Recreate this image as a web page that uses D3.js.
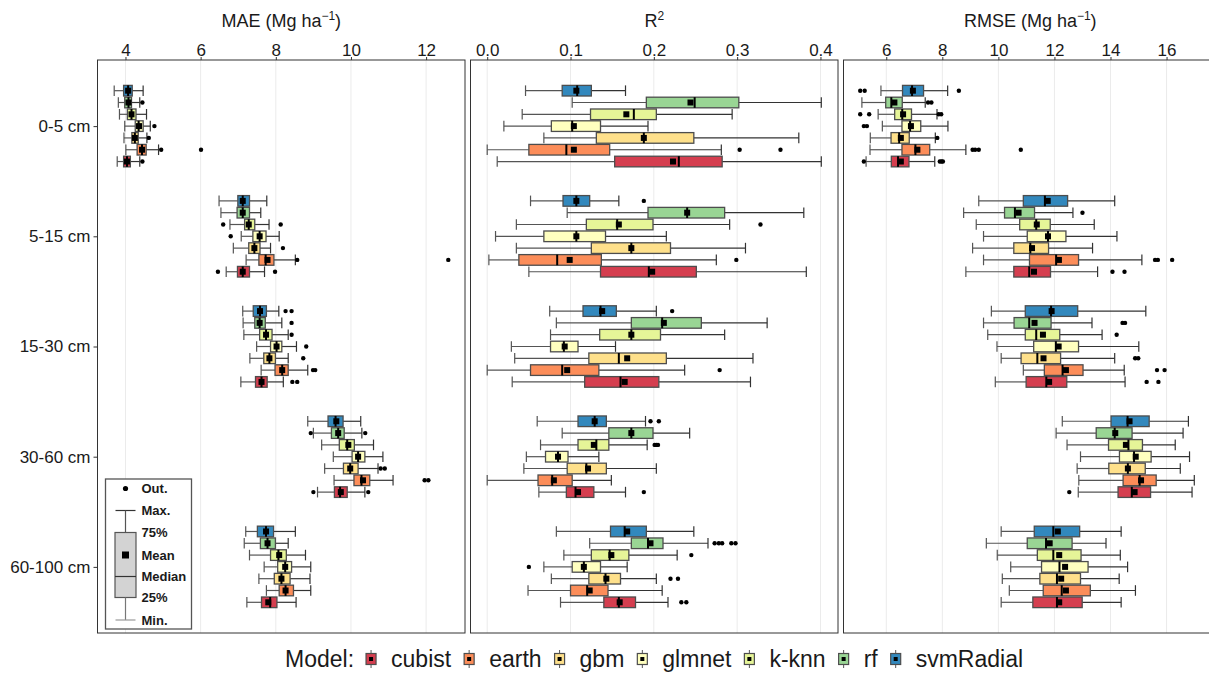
<!DOCTYPE html>
<html>
<head>
<meta charset="utf-8">
<script src="https://cdn.jsdelivr.net/npm/d3@7"></script>
<style>
  body { margin: 0; background: #fff; }
  text { font-family: "Liberation Sans", Arial, sans-serif; }
</style>
</head>
<body>
<script>
// depth groups (top to bottom) and models
var depths = ["0-5 cm", "5-15 cm", "15-30 cm", "30-60 cm", "60-100 cm"];
var models = ["cubist", "earth", "gbm", "glmnet", "k-knn", "rf", "svmRadial"];
var modelColors = ["#d53e4f", "#fc8d59", "#fee08b", "#ffffbf", "#e6f598", "#99d594", "#3288bd"];

var maeTicks = [4, 6, 8, 10, 12];
var r2Ticks = [0, 0.1, 0.2, 0.3, 0.4];
var rmseTicks = [6, 8, 10, 12, 14, 16];

// [min, q1, median, q3, max, mean] per depth, models in the order above
var maeStats = [
	[[3.78, 3.95, 4.04, 4.13, 4.38, 4.04], [4.01, 4.31, 4.44, 4.55, 4.88, 4.44], [3.96, 4.17, 4.25, 4.34, 4.57, 4.25], [3.98, 4.26, 4.35, 4.47, 4.66, 4.36], [3.84, 4.05, 4.16, 4.28, 4.56, 4.16], [3.81, 3.98, 4.08, 4.16, 4.38, 4.08], [3.70, 3.95, 4.07, 4.18, 4.47, 4.07]],
	[[6.68, 6.98, 7.12, 7.30, 7.70, 7.12], [7.21, 7.55, 7.73, 7.95, 8.52, 7.78], [6.87, 7.28, 7.43, 7.58, 7.86, 7.43], [7.08, 7.39, 7.57, 7.74, 8.09, 7.57], [6.78, 7.17, 7.28, 7.44, 7.82, 7.28], [6.54, 6.97, 7.12, 7.30, 7.60, 7.12], [6.49, 6.99, 7.12, 7.30, 7.76, 7.12]],
	[[7.07, 7.46, 7.62, 7.77, 8.20, 7.62], [7.61, 7.98, 8.17, 8.33, 8.85, 8.17], [7.31, 7.68, 7.83, 7.99, 8.33, 7.83], [7.49, 7.86, 8.02, 8.16, 8.55, 8.02], [7.15, 7.57, 7.74, 7.90, 8.33, 7.74], [7.13, 7.44, 7.57, 7.72, 8.16, 7.57], [7.12, 7.40, 7.58, 7.75, 8.08, 7.58]],
	[[9.11, 9.56, 9.71, 9.90, 10.37, 9.73], [9.55, 10.08, 10.28, 10.50, 11.12, 10.32], [9.30, 9.80, 9.98, 10.19, 10.72, 9.98], [9.53, 10.03, 10.19, 10.37, 10.85, 10.19], [9.22, 9.69, 9.90, 10.09, 10.60, 9.93], [9.00, 9.48, 9.66, 9.82, 10.29, 9.66], [8.85, 9.39, 9.59, 9.79, 10.26, 9.61]],
	[[7.23, 7.62, 7.85, 8.03, 8.54, 7.80], [7.75, 8.09, 8.26, 8.47, 8.93, 8.26], [7.55, 7.96, 8.15, 8.38, 8.91, 8.15], [7.69, 8.05, 8.25, 8.42, 8.93, 8.25], [7.30, 7.86, 8.07, 8.28, 8.79, 8.09], [7.16, 7.59, 7.78, 7.99, 8.33, 7.78], [7.20, 7.51, 7.74, 7.94, 8.52, 7.74]]
];
var maeOutliers = [
	[[4.45], [4.95, 6.01], [4.62], [4.77], [], [4.45], []],
	[[6.46, 7.98], [8.57, 12.59], [8.19], [6.80], [6.60, 8.13], [], []],
	[[8.44, 8.57], [8.99, 9.05], [8.73], [8.81], [8.42], [8.42], [8.26, 8.42]],
	[[9.00, 10.46], [11.96, 12.06], [10.79, 10.90], [], [], [8.93, 10.38], []],
	[[], [], [], [], [], [], []]
];

var r2Stats = [
	[[0.012, 0.153, 0.230, 0.282, 0.401, 0.223], [0.000, 0.050, 0.095, 0.147, 0.281, 0.104], [0.068, 0.131, 0.188, 0.248, 0.374, 0.188], [0.020, 0.077, 0.102, 0.136, 0.193, 0.104], [0.042, 0.124, 0.176, 0.203, 0.294, 0.167], [0.102, 0.191, 0.249, 0.302, 0.401, 0.244], [0.046, 0.090, 0.108, 0.125, 0.166, 0.107]],
	[[0.050, 0.136, 0.194, 0.251, 0.383, 0.198], [0.002, 0.038, 0.084, 0.137, 0.275, 0.099], [0.035, 0.125, 0.173, 0.220, 0.310, 0.173], [0.010, 0.068, 0.107, 0.142, 0.215, 0.107], [0.035, 0.119, 0.156, 0.199, 0.291, 0.158], [0.096, 0.193, 0.240, 0.285, 0.380, 0.240], [0.052, 0.091, 0.107, 0.123, 0.158, 0.107]],
	[[0.030, 0.117, 0.160, 0.206, 0.316, 0.165], [0.000, 0.052, 0.090, 0.134, 0.237, 0.096], [0.033, 0.122, 0.158, 0.215, 0.319, 0.168], [0.029, 0.076, 0.092, 0.109, 0.154, 0.093], [0.076, 0.135, 0.173, 0.208, 0.285, 0.173], [0.083, 0.173, 0.210, 0.257, 0.336, 0.212], [0.075, 0.115, 0.136, 0.155, 0.203, 0.138]],
	[[0.062, 0.095, 0.106, 0.128, 0.166, 0.109], [0.000, 0.061, 0.078, 0.102, 0.149, 0.080], [0.044, 0.096, 0.119, 0.143, 0.203, 0.121], [0.047, 0.070, 0.085, 0.097, 0.134, 0.085], [0.064, 0.109, 0.131, 0.146, 0.192, 0.128], [0.090, 0.146, 0.173, 0.199, 0.243, 0.173], [0.060, 0.109, 0.129, 0.143, 0.190, 0.129]],
	[[0.088, 0.140, 0.158, 0.178, 0.217, 0.159], [0.049, 0.100, 0.120, 0.145, 0.210, 0.123], [0.077, 0.122, 0.142, 0.160, 0.203, 0.143], [0.068, 0.102, 0.116, 0.136, 0.168, 0.116], [0.092, 0.125, 0.147, 0.170, 0.228, 0.149], [0.123, 0.173, 0.193, 0.211, 0.265, 0.196], [0.083, 0.148, 0.165, 0.191, 0.248, 0.168]]
];
var r2Outliers = [
	[[], [0.303, 0.352], [], [], [], [], []],
	[[], [0.299], [], [], [0.328], [], [0.188]],
	[[], [0.279], [], [], [], [], [0.222]],
	[[0.188], [], [], [], [0.201, 0.203, 0.205], [], [0.196, 0.206]],
	[[0.233, 0.239], [], [0.220, 0.229], [0.050], [0.245], [0.273, 0.278, 0.282, 0.293, 0.298], []]
];

var rmseStats = [
	[[5.28, 6.18, 6.42, 6.81, 7.73, 6.52], [5.42, 6.56, 7.04, 7.55, 8.84, 7.11], [5.43, 6.17, 6.46, 6.82, 7.75, 6.52], [5.86, 6.56, 6.85, 7.23, 8.20, 6.88], [5.71, 6.30, 6.57, 6.90, 7.81, 6.60], [5.13, 5.98, 6.18, 6.57, 7.39, 6.29], [5.81, 6.58, 6.92, 7.33, 8.19, 6.95]],
	[[8.84, 10.55, 11.10, 11.86, 13.54, 11.27], [9.47, 11.11, 12.06, 12.86, 15.12, 12.16], [9.08, 10.55, 11.14, 11.79, 13.36, 11.20], [9.47, 11.03, 11.77, 12.41, 14.23, 11.77], [9.21, 10.76, 11.35, 11.85, 13.42, 11.37], [8.76, 10.22, 10.59, 11.29, 12.66, 10.72], [9.30, 10.89, 11.66, 12.47, 14.15, 11.76]],
	[[9.89, 10.99, 11.71, 12.44, 14.52, 11.81], [10.89, 11.64, 12.29, 13.02, 14.49, 12.41], [10.10, 10.81, 11.39, 12.22, 14.15, 11.61], [9.95, 11.26, 12.05, 12.86, 15.01, 12.15], [9.62, 10.96, 11.35, 12.19, 13.70, 11.59], [9.47, 10.56, 11.10, 11.88, 13.34, 11.29], [9.75, 10.96, 11.88, 12.83, 15.26, 11.90]],
	[[12.85, 14.27, 14.76, 15.43, 16.91, 14.86], [12.87, 14.45, 15.04, 15.63, 16.99, 15.09], [12.81, 13.94, 14.62, 15.24, 16.49, 14.62], [12.93, 14.32, 14.84, 15.45, 16.82, 14.90], [12.45, 13.93, 14.64, 15.14, 16.31, 14.55], [12.06, 13.49, 14.15, 14.77, 16.59, 14.17], [12.28, 14.02, 14.61, 15.38, 16.78, 14.68]],
	[[10.10, 11.23, 12.09, 12.99, 14.38, 12.17], [10.39, 11.60, 12.26, 13.28, 14.89, 12.41], [10.14, 11.48, 12.09, 12.93, 14.31, 12.24], [10.44, 11.54, 12.18, 13.20, 14.61, 12.38], [9.96, 11.39, 11.96, 12.95, 14.35, 12.17], [9.57, 11.03, 11.70, 12.63, 13.84, 11.83], [10.10, 11.28, 11.96, 12.90, 14.38, 12.12]]
];
var rmseOutliers = [
	[[5.20, 7.91, 7.97, 8.02], [9.08, 9.17, 9.30, 10.80], [7.82], [5.20, 5.31], [5.07, 5.39, 7.87, 7.96], [7.49, 7.61], [5.07, 5.23, 8.59]],
	[[14.07, 14.50], [15.59, 15.69, 16.20], [], [], [], [13.00], []],
	[[15.29, 15.71], [15.66, 15.93], [14.88, 14.99], [], [14.22], [14.43, 14.52], []],
	[[12.53], [], [], [], [], [], []],
	[[], [], [], [], [], [], []]
];

var W = 1209, H = 673;
var panelTop = 60, panelBottom = 633;
var font = "'Liberation Sans', Arial, sans-serif";

var svg = d3.select("body").append("svg").attr("width", W).attr("height", H);

var panels = [
	{ title: ["MAE (Mg ha", "\u22121", ")"], stats: maeStats, outs: maeOutliers, ticks: maeTicks, fmt: d3.format("d"), x0: 97.5, x1: 465 },
	{ title: ["R", "2", ""], stats: r2Stats, outs: r2Outliers, ticks: r2Ticks, fmt: d3.format(".1f"), x0: 470.5, x1: 838 },
	{ title: ["RMSE (Mg ha", "\u22121", ")"], stats: rmseStats, outs: rmseOutliers, ticks: rmseTicks, fmt: d3.format("d"), x0: 843.5, x1: 1211 }
];

var yDepth = d3.scalePoint().domain(depths).range([panelTop, panelBottom]).padding(0.6);
var dodge = yDepth.step() * 0.75;
var yModel = d3.scaleBand().domain(models.slice().reverse()).range([-dodge / 2, dodge / 2]);
var boxH = yModel.bandwidth() * 0.9;

function drawPanel(p)
{
	// data range with 5% expansion, like ggplot
	var all = [];
	p.stats.forEach(function(row) { row.forEach(function(s) { all = all.concat(s); }); });
	p.outs.forEach(function(row) { row.forEach(function(o) { all = all.concat(o); }); });
	var ext = d3.extent(all);
	var pad = (ext[1] - ext[0]) * 0.05;
	var x = d3.scaleLinear().domain([ext[0] - pad, ext[1] + pad]).range([p.x0, p.x1]);

	var g = svg.append("g");

	// gridlines
	g.selectAll("line.grid").data(p.ticks).enter().append("line")
		.attr("x1", function(d) { return x(d); })
		.attr("x2", function(d) { return x(d); })
		.attr("y1", panelTop).attr("y2", panelBottom)
		.attr("stroke", "#ebebeb").attr("stroke-width", 1);

	// top axis
	var ax = g.append("g").attr("transform", "translate(0," + panelTop + ")")
		.call(d3.axisTop(x).tickValues(p.ticks).tickFormat(p.fmt).tickSize(3).tickPadding(1));
	ax.select(".domain").remove();
	ax.selectAll(".tick line").attr("stroke", "#333");
	ax.selectAll(".tick text").attr("font-size", 17).attr("font-family", font).attr("fill", "#1a1a1a");

	// title
	var t = g.append("text").attr("x", (p.x0 + p.x1) / 2 + (p.x0 > 800 ? 3 : 0)).attr("y", 27)
		.attr("text-anchor", "middle").attr("font-size", 18).attr("fill", "#1a1a1a");
	t.append("tspan").text(p.title[0]);
	t.append("tspan").text(p.title[1]).attr("font-size", 12).attr("dy", -7);
	t.append("tspan").text(p.title[2]).attr("dy", 7);

	// boxes
	var boxes = [];
	depths.forEach(function(dep, i) {
		models.forEach(function(m, j) {
			var s = p.stats[i][j];
			boxes.push({ depth: dep, model: m, color: modelColors[j], min: s[0], q1: s[1], med: s[2], q3: s[3], max: s[4], mean: s[5], outs: p.outs[i][j] });
		});
	});

	var bg = g.selectAll("g.box").data(boxes).enter().append("g")
		.attr("transform", function(d) { return "translate(0," + (yDepth(d.depth) + yModel(d.model) + yModel.bandwidth() / 2) + ")"; });

	bg.append("line").attr("x1", function(d) { return x(d.min); }).attr("x2", function(d) { return x(d.q1); })
		.attr("stroke", "#555").attr("stroke-width", 1.2);
	bg.append("line").attr("x1", function(d) { return x(d.q3); }).attr("x2", function(d) { return x(d.max); })
		.attr("stroke", "#333").attr("stroke-width", 1.2);
	bg.append("line").attr("x1", function(d) { return x(d.min); }).attr("x2", function(d) { return x(d.min); })
		.attr("y1", -boxH / 2).attr("y2", boxH / 2).attr("stroke", "#555").attr("stroke-width", 1.2);
	bg.append("line").attr("x1", function(d) { return x(d.max); }).attr("x2", function(d) { return x(d.max); })
		.attr("y1", -boxH / 2).attr("y2", boxH / 2).attr("stroke", "#333").attr("stroke-width", 1.2);
	bg.append("rect")
		.attr("x", function(d) { return x(d.q1); })
		.attr("width", function(d) { return x(d.q3) - x(d.q1); })
		.attr("y", -boxH / 2).attr("height", boxH)
		.attr("fill", function(d) { return d.color; })
		.attr("stroke", "#4d4d4d").attr("stroke-width", 1.3);
	bg.append("line").attr("x1", function(d) { return x(d.med); }).attr("x2", function(d) { return x(d.med); })
		.attr("y1", -boxH / 2).attr("y2", boxH / 2).attr("stroke", "#000").attr("stroke-width", 2);
	bg.append("rect")
		.attr("x", function(d) { return x(d.mean) - 3; })
		.attr("y", -3).attr("width", 6).attr("height", 6).attr("fill", "#000");
	bg.selectAll("circle").data(function(d) { return d.outs; }).enter().append("circle")
		.attr("cx", function(v) { return x(v); }).attr("cy", 0).attr("r", 2.2).attr("fill", "#000");

	// border
	g.append("rect").attr("x", p.x0).attr("y", panelTop)
		.attr("width", p.x1 - p.x0).attr("height", panelBottom - panelTop)
		.attr("fill", "none").attr("stroke", "#333").attr("stroke-width", 1);
}

panels.forEach(drawPanel);

// y axis on the left of the first panel
var yAx = svg.append("g").attr("transform", "translate(" + panels[0].x0 + ",0)")
	.call(d3.axisLeft(yDepth).tickSize(4).tickPadding(3));
yAx.select(".domain").remove();
yAx.selectAll(".tick line").attr("stroke", "#333");
yAx.selectAll(".tick text").attr("font-size", 17).attr("font-family", font).attr("fill", "#1a1a1a");

// inset key explaining the box elements
var key = svg.append("g").attr("transform", "translate(105.5,479)");
key.append("rect").attr("width", 86).attr("height", 150).attr("fill", "#fff").attr("stroke", "#555").attr("stroke-width", 1.3);
var kx = 20;
key.append("circle").attr("cx", kx).attr("cy", 9.5).attr("r", 2.6).attr("fill", "#000");
key.append("line").attr("x1", kx - 10).attr("x2", kx + 10).attr("y1", 31.5).attr("y2", 31.5).attr("stroke", "#333").attr("stroke-width", 1.2);
key.append("line").attr("x1", kx).attr("x2", kx).attr("y1", 31.5).attr("y2", 53.5).attr("stroke", "#555").attr("stroke-width", 1.2);
key.append("rect").attr("x", kx - 10.5).attr("y", 53.5).attr("width", 21).attr("height", 65).attr("fill", "#d3d3d3").attr("stroke", "#555").attr("stroke-width", 1.2);
key.append("line").attr("x1", kx - 10.5).attr("x2", kx + 10.5).attr("y1", 97.5).attr("y2", 97.5).attr("stroke", "#333").attr("stroke-width", 1.2);
key.append("rect").attr("x", kx - 3.5).attr("y", 72.5).attr("width", 7).attr("height", 7).attr("fill", "#000");
key.append("line").attr("x1", kx).attr("x2", kx).attr("y1", 118.5).attr("y2", 141).attr("stroke", "#777").attr("stroke-width", 1.2);
key.append("line").attr("x1", kx - 10).attr("x2", kx + 10).attr("y1", 141).attr("y2", 141).attr("stroke", "#999").attr("stroke-width", 1.2);
var keyLabels = [["Out.", 9.5], ["Max.", 31.5], ["75%", 53.5], ["Mean", 76], ["Median", 97.5], ["25%", 118.5], ["Min.", 141]];
key.selectAll("text.kl").data(keyLabels).enter().append("text")
	.attr("x", 36).attr("y", function(d) { return d[1]; }).attr("dy", "0.35em")
	.attr("font-size", 13).attr("font-weight", "bold").attr("fill", "#1a1a1a")
	.text(function(d) { return d[0]; });

// model legend along the bottom
var leg = svg.append("g").attr("transform", "translate(0,659)");
var lx = 285;
var lt = leg.append("text").attr("x", lx).attr("y", 8).attr("font-size", 23).attr("fill", "#1a1a1a").text("Model:");
lx += lt.node().getComputedTextLength() + 12;
models.forEach(function(m, j) {
	leg.append("line").attr("x1", lx + 5).attr("x2", lx + 5).attr("y1", -9).attr("y2", 9).attr("stroke", "#555").attr("stroke-width", 1);
	leg.append("rect").attr("x", lx).attr("y", -5.5).attr("width", 10).attr("height", 11)
		.attr("fill", modelColors[j]).attr("stroke", "#4d4d4d").attr("stroke-width", 1.2);
	leg.append("rect").attr("x", lx + 3).attr("y", -2).attr("width", 4).attr("height", 4).attr("fill", "#000");
	lx += 25;
	var tx = leg.append("text").attr("x", lx).attr("y", 8).attr("font-size", 23).attr("fill", "#1a1a1a").text(m);
	lx += tx.node().getComputedTextLength() + 13;
});
</script>
</body>
</html>
